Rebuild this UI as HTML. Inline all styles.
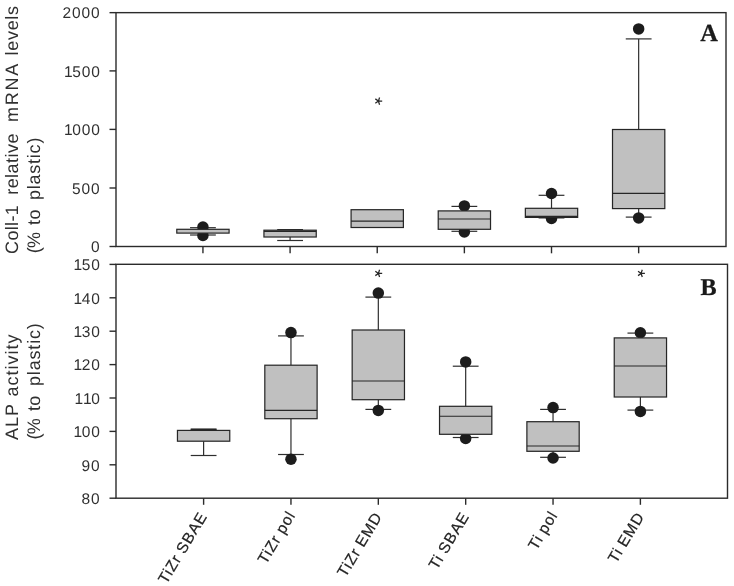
<!DOCTYPE html>
<html><head><meta charset="utf-8"><title>Figure</title>
<style>
html,body{margin:0;padding:0;background:#fff;}
body{width:734px;height:586px;overflow:hidden;font-family:"Liberation Sans",sans-serif;}
svg{display:block;opacity:0.999;will-change:transform;text-rendering:geometricPrecision;font-family:"Liberation Sans",sans-serif;}
</style></head><body>
<svg width="734" height="586" viewBox="0 0 734 586">
<rect x="0" y="0" width="734" height="586" fill="#ffffff"/>
<rect x="116" y="12.65" width="610" height="233.85" fill="none" stroke="#2b2b2b" stroke-width="1.4"/>
<line x1="109.50" y1="12.65" x2="116.00" y2="12.65" stroke="#2b2b2b" stroke-width="1.4"/>
<text x="100.4" y="18.35" dx="0.0 0.0 0.0 0.0" text-anchor="end" font-size="15.5" letter-spacing="0.85" fill="#303030">2000</text>
<line x1="109.50" y1="70.90" x2="116.00" y2="70.90" stroke="#2b2b2b" stroke-width="1.4"/>
<text x="99.7" y="76.60" dx="1.1 -1.1 0.0 0.0" text-anchor="end" font-size="15.5" letter-spacing="0.85" fill="#303030">1500</text>
<line x1="109.50" y1="129.40" x2="116.00" y2="129.40" stroke="#2b2b2b" stroke-width="1.4"/>
<text x="99.7" y="135.10" dx="1.1 -1.1 0.0 0.0" text-anchor="end" font-size="15.5" letter-spacing="0.85" fill="#303030">1000</text>
<line x1="109.50" y1="188.00" x2="116.00" y2="188.00" stroke="#2b2b2b" stroke-width="1.4"/>
<text x="100.4" y="193.70" dx="0.0 0.0 0.0" text-anchor="end" font-size="15.5" letter-spacing="0.85" fill="#303030">500</text>
<line x1="109.50" y1="246.50" x2="116.00" y2="246.50" stroke="#2b2b2b" stroke-width="1.4"/>
<text x="100.4" y="252.20" dx="0.0" text-anchor="end" font-size="15.5" letter-spacing="0.85" fill="#303030">0</text>
<line x1="202.94" y1="246.50" x2="202.94" y2="253.30" stroke="#2b2b2b" stroke-width="1.4"/>
<line x1="290.09" y1="246.50" x2="290.09" y2="253.30" stroke="#2b2b2b" stroke-width="1.4"/>
<line x1="377.23" y1="246.50" x2="377.23" y2="253.30" stroke="#2b2b2b" stroke-width="1.4"/>
<line x1="464.37" y1="246.50" x2="464.37" y2="253.30" stroke="#2b2b2b" stroke-width="1.4"/>
<line x1="551.51" y1="246.50" x2="551.51" y2="253.30" stroke="#2b2b2b" stroke-width="1.4"/>
<line x1="638.66" y1="246.50" x2="638.66" y2="253.30" stroke="#2b2b2b" stroke-width="1.4"/>
<line x1="202.94" y1="227.70" x2="202.94" y2="229.30" stroke="#2e2e2e" stroke-width="1.2"/>
<line x1="190.04" y1="227.70" x2="215.84" y2="227.70" stroke="#2e2e2e" stroke-width="1.2"/>
<line x1="202.94" y1="233.10" x2="202.94" y2="235.00" stroke="#2e2e2e" stroke-width="1.2"/>
<line x1="190.04" y1="235.00" x2="215.84" y2="235.00" stroke="#2e2e2e" stroke-width="1.2"/>
<circle cx="202.94" cy="227.00" r="5.75" fill="#1c1c1c"/>
<circle cx="202.94" cy="235.50" r="5.75" fill="#1c1c1c"/>
<rect x="176.79" y="229.30" width="52.30" height="3.80" fill="#c0c0c0" stroke="#262626" stroke-width="1.22"/>
<line x1="290.09" y1="229.60" x2="290.09" y2="230.20" stroke="#2e2e2e" stroke-width="1.2"/>
<line x1="277.19" y1="229.60" x2="302.99" y2="229.60" stroke="#2e2e2e" stroke-width="1.2"/>
<line x1="290.09" y1="237.00" x2="290.09" y2="240.50" stroke="#2e2e2e" stroke-width="1.2"/>
<line x1="277.19" y1="240.50" x2="302.99" y2="240.50" stroke="#2e2e2e" stroke-width="1.2"/>
<rect x="263.94" y="230.20" width="52.30" height="6.80" fill="#c0c0c0" stroke="#262626" stroke-width="1.22"/>
<line x1="263.94" y1="231.40" x2="316.24" y2="231.40" stroke="#262626" stroke-width="1.22"/>
<rect x="351.08" y="209.70" width="52.30" height="17.80" fill="#c0c0c0" stroke="#262626" stroke-width="1.22"/>
<line x1="351.08" y1="221.20" x2="403.38" y2="221.20" stroke="#262626" stroke-width="1.22"/>
<line x1="464.37" y1="206.40" x2="464.37" y2="210.90" stroke="#2e2e2e" stroke-width="1.2"/>
<line x1="451.47" y1="206.40" x2="477.27" y2="206.40" stroke="#2e2e2e" stroke-width="1.2"/>
<line x1="464.37" y1="229.30" x2="464.37" y2="231.30" stroke="#2e2e2e" stroke-width="1.2"/>
<line x1="451.47" y1="231.30" x2="477.27" y2="231.30" stroke="#2e2e2e" stroke-width="1.2"/>
<circle cx="464.37" cy="205.90" r="5.75" fill="#1c1c1c"/>
<circle cx="464.37" cy="232.00" r="5.75" fill="#1c1c1c"/>
<rect x="438.22" y="210.90" width="52.30" height="18.40" fill="#c0c0c0" stroke="#262626" stroke-width="1.22"/>
<line x1="438.22" y1="219.00" x2="490.52" y2="219.00" stroke="#262626" stroke-width="1.22"/>
<line x1="551.51" y1="195.30" x2="551.51" y2="208.30" stroke="#2e2e2e" stroke-width="1.2"/>
<line x1="538.61" y1="195.30" x2="564.41" y2="195.30" stroke="#2e2e2e" stroke-width="1.2"/>
<line x1="551.51" y1="217.40" x2="551.51" y2="217.90" stroke="#2e2e2e" stroke-width="1.2"/>
<line x1="538.61" y1="217.90" x2="564.41" y2="217.90" stroke="#2e2e2e" stroke-width="1.2"/>
<circle cx="551.51" cy="193.50" r="5.75" fill="#1c1c1c"/>
<circle cx="551.51" cy="218.40" r="5.75" fill="#1c1c1c"/>
<rect x="525.36" y="208.30" width="52.30" height="9.10" fill="#c0c0c0" stroke="#262626" stroke-width="1.22"/>
<line x1="525.36" y1="216.40" x2="577.66" y2="216.40" stroke="#262626" stroke-width="1.22"/>
<line x1="638.66" y1="38.90" x2="638.66" y2="129.50" stroke="#2e2e2e" stroke-width="1.2"/>
<line x1="625.76" y1="38.90" x2="651.56" y2="38.90" stroke="#2e2e2e" stroke-width="1.2"/>
<line x1="638.66" y1="208.60" x2="638.66" y2="217.10" stroke="#2e2e2e" stroke-width="1.2"/>
<line x1="625.76" y1="217.10" x2="651.56" y2="217.10" stroke="#2e2e2e" stroke-width="1.2"/>
<circle cx="638.66" cy="28.90" r="5.75" fill="#1c1c1c"/>
<circle cx="638.66" cy="217.90" r="5.75" fill="#1c1c1c"/>
<rect x="612.51" y="129.50" width="52.30" height="79.10" fill="#c0c0c0" stroke="#262626" stroke-width="1.22"/>
<line x1="612.51" y1="193.30" x2="664.81" y2="193.30" stroke="#262626" stroke-width="1.22"/>
<path d="M378.40 101.10L382.20 101.10M378.40 101.10L379.57 97.49M378.40 101.10L375.33 98.87M378.40 101.10L375.33 103.33M378.40 101.10L379.57 104.71" stroke="#262626" stroke-width="1.25" fill="none"/>
<circle cx="378.40" cy="101.10" r="1.0" fill="#262626"/>
<text x="709.2" y="40.7" text-anchor="middle" font-family="Liberation Serif, serif" font-weight="bold" font-size="24.5" fill="#1a1a1a" stroke="#1a1a1a" stroke-width="0.25">A</text>
<rect x="116" y="264.3" width="611.5" height="233.90" fill="none" stroke="#2b2b2b" stroke-width="1.4"/>
<line x1="109.50" y1="264.40" x2="116.00" y2="264.40" stroke="#2b2b2b" stroke-width="1.4"/>
<text x="99.7" y="270.10" dx="1.1 -1.1 0.0" text-anchor="end" font-size="15.5" letter-spacing="0.85" fill="#303030">150</text>
<line x1="109.50" y1="297.80" x2="116.00" y2="297.80" stroke="#2b2b2b" stroke-width="1.4"/>
<text x="99.7" y="303.50" dx="1.1 -1.1 0.0" text-anchor="end" font-size="15.5" letter-spacing="0.85" fill="#303030">140</text>
<line x1="109.50" y1="331.20" x2="116.00" y2="331.20" stroke="#2b2b2b" stroke-width="1.4"/>
<text x="99.7" y="336.90" dx="1.1 -1.1 0.0" text-anchor="end" font-size="15.5" letter-spacing="0.85" fill="#303030">130</text>
<line x1="109.50" y1="364.60" x2="116.00" y2="364.60" stroke="#2b2b2b" stroke-width="1.4"/>
<text x="99.7" y="370.30" dx="1.1 -1.1 0.0" text-anchor="end" font-size="15.5" letter-spacing="0.85" fill="#303030">120</text>
<line x1="109.50" y1="398.00" x2="116.00" y2="398.00" stroke="#2b2b2b" stroke-width="1.4"/>
<text x="99.7" y="403.70" dx="1.1 0.0 -1.1" text-anchor="end" font-size="15.5" letter-spacing="0.85" fill="#303030">110</text>
<line x1="109.50" y1="431.40" x2="116.00" y2="431.40" stroke="#2b2b2b" stroke-width="1.4"/>
<text x="99.7" y="437.10" dx="1.1 -1.1 0.0" text-anchor="end" font-size="15.5" letter-spacing="0.85" fill="#303030">100</text>
<line x1="109.50" y1="464.80" x2="116.00" y2="464.80" stroke="#2b2b2b" stroke-width="1.4"/>
<text x="100.4" y="470.50" dx="0.0 0.0" text-anchor="end" font-size="15.5" letter-spacing="0.85" fill="#303030">90</text>
<line x1="109.50" y1="498.20" x2="116.00" y2="498.20" stroke="#2b2b2b" stroke-width="1.4"/>
<text x="100.4" y="503.90" dx="0.0 0.0" text-anchor="end" font-size="15.5" letter-spacing="0.85" fill="#303030">80</text>
<line x1="203.61" y1="498.20" x2="203.61" y2="504.80" stroke="#2b2b2b" stroke-width="1.4"/>
<line x1="290.96" y1="498.20" x2="290.96" y2="504.80" stroke="#2b2b2b" stroke-width="1.4"/>
<line x1="378.32" y1="498.20" x2="378.32" y2="504.80" stroke="#2b2b2b" stroke-width="1.4"/>
<line x1="465.68" y1="498.20" x2="465.68" y2="504.80" stroke="#2b2b2b" stroke-width="1.4"/>
<line x1="553.04" y1="498.20" x2="553.04" y2="504.80" stroke="#2b2b2b" stroke-width="1.4"/>
<line x1="640.39" y1="498.20" x2="640.39" y2="504.80" stroke="#2b2b2b" stroke-width="1.4"/>
<line x1="203.61" y1="429.20" x2="203.61" y2="430.40" stroke="#2e2e2e" stroke-width="1.2"/>
<line x1="190.71" y1="429.20" x2="216.51" y2="429.20" stroke="#2e2e2e" stroke-width="1.2"/>
<line x1="203.61" y1="441.20" x2="203.61" y2="455.50" stroke="#2e2e2e" stroke-width="1.2"/>
<line x1="190.71" y1="455.50" x2="216.51" y2="455.50" stroke="#2e2e2e" stroke-width="1.2"/>
<rect x="177.46" y="430.40" width="52.30" height="10.80" fill="#c0c0c0" stroke="#262626" stroke-width="1.22"/>
<line x1="190.71" y1="429.70" x2="216.51" y2="429.70" stroke="#262626" stroke-width="2.0"/>
<line x1="290.96" y1="335.90" x2="290.96" y2="365.20" stroke="#2e2e2e" stroke-width="1.2"/>
<line x1="278.06" y1="335.90" x2="303.86" y2="335.90" stroke="#2e2e2e" stroke-width="1.2"/>
<line x1="290.96" y1="418.70" x2="290.96" y2="454.50" stroke="#2e2e2e" stroke-width="1.2"/>
<line x1="278.06" y1="454.50" x2="303.86" y2="454.50" stroke="#2e2e2e" stroke-width="1.2"/>
<circle cx="290.96" cy="332.60" r="5.75" fill="#1c1c1c"/>
<circle cx="290.96" cy="459.20" r="5.75" fill="#1c1c1c"/>
<rect x="264.81" y="365.20" width="52.30" height="53.50" fill="#c0c0c0" stroke="#262626" stroke-width="1.22"/>
<line x1="264.81" y1="410.40" x2="317.11" y2="410.40" stroke="#262626" stroke-width="1.22"/>
<line x1="378.32" y1="297.10" x2="378.32" y2="330.00" stroke="#2e2e2e" stroke-width="1.2"/>
<line x1="365.42" y1="297.10" x2="391.22" y2="297.10" stroke="#2e2e2e" stroke-width="1.2"/>
<line x1="378.32" y1="399.70" x2="378.32" y2="409.40" stroke="#2e2e2e" stroke-width="1.2"/>
<line x1="365.42" y1="409.40" x2="391.22" y2="409.40" stroke="#2e2e2e" stroke-width="1.2"/>
<circle cx="378.32" cy="293.10" r="5.75" fill="#1c1c1c"/>
<circle cx="378.32" cy="410.40" r="5.75" fill="#1c1c1c"/>
<rect x="352.17" y="330.00" width="52.30" height="69.70" fill="#c0c0c0" stroke="#262626" stroke-width="1.22"/>
<line x1="352.17" y1="381.00" x2="404.47" y2="381.00" stroke="#262626" stroke-width="1.22"/>
<line x1="465.68" y1="366.20" x2="465.68" y2="406.30" stroke="#2e2e2e" stroke-width="1.2"/>
<line x1="452.78" y1="366.20" x2="478.58" y2="366.20" stroke="#2e2e2e" stroke-width="1.2"/>
<line x1="465.68" y1="434.30" x2="465.68" y2="437.50" stroke="#2e2e2e" stroke-width="1.2"/>
<line x1="452.78" y1="437.50" x2="478.58" y2="437.50" stroke="#2e2e2e" stroke-width="1.2"/>
<circle cx="465.68" cy="361.90" r="5.75" fill="#1c1c1c"/>
<circle cx="465.68" cy="438.50" r="5.75" fill="#1c1c1c"/>
<rect x="439.53" y="406.30" width="52.30" height="28.00" fill="#c0c0c0" stroke="#262626" stroke-width="1.22"/>
<line x1="439.53" y1="416.25" x2="491.83" y2="416.25" stroke="#262626" stroke-width="1.22"/>
<line x1="553.04" y1="409.40" x2="553.04" y2="421.70" stroke="#2e2e2e" stroke-width="1.2"/>
<line x1="540.14" y1="409.40" x2="565.94" y2="409.40" stroke="#2e2e2e" stroke-width="1.2"/>
<line x1="553.04" y1="451.30" x2="553.04" y2="457.30" stroke="#2e2e2e" stroke-width="1.2"/>
<line x1="540.14" y1="457.30" x2="565.94" y2="457.30" stroke="#2e2e2e" stroke-width="1.2"/>
<circle cx="553.04" cy="407.60" r="5.75" fill="#1c1c1c"/>
<circle cx="553.04" cy="458.00" r="5.75" fill="#1c1c1c"/>
<rect x="526.89" y="421.70" width="52.30" height="29.60" fill="#c0c0c0" stroke="#262626" stroke-width="1.22"/>
<line x1="526.89" y1="446.00" x2="579.19" y2="446.00" stroke="#262626" stroke-width="1.22"/>
<line x1="640.39" y1="333.10" x2="640.39" y2="337.90" stroke="#2e2e2e" stroke-width="1.2"/>
<line x1="627.49" y1="333.10" x2="653.29" y2="333.10" stroke="#2e2e2e" stroke-width="1.2"/>
<line x1="640.39" y1="397.00" x2="640.39" y2="410.10" stroke="#2e2e2e" stroke-width="1.2"/>
<line x1="627.49" y1="410.10" x2="653.29" y2="410.10" stroke="#2e2e2e" stroke-width="1.2"/>
<circle cx="640.39" cy="332.80" r="5.75" fill="#1c1c1c"/>
<circle cx="640.39" cy="411.40" r="5.75" fill="#1c1c1c"/>
<rect x="614.24" y="337.90" width="52.30" height="59.10" fill="#c0c0c0" stroke="#262626" stroke-width="1.22"/>
<line x1="614.24" y1="366.00" x2="666.54" y2="366.00" stroke="#262626" stroke-width="1.22"/>
<path d="M378.40 273.40L382.20 273.40M378.40 273.40L379.57 269.79M378.40 273.40L375.33 271.17M378.40 273.40L375.33 275.63M378.40 273.40L379.57 277.01" stroke="#262626" stroke-width="1.25" fill="none"/>
<circle cx="378.40" cy="273.40" r="1.0" fill="#262626"/>
<path d="M641.10 273.40L644.90 273.40M641.10 273.40L642.27 269.79M641.10 273.40L638.03 271.17M641.10 273.40L638.03 275.63M641.10 273.40L642.27 277.01" stroke="#262626" stroke-width="1.25" fill="none"/>
<circle cx="641.10" cy="273.40" r="1.0" fill="#262626"/>
<text x="708.6" y="294.6" text-anchor="middle" font-family="Liberation Serif, serif" font-weight="bold" font-size="24.2" fill="#1a1a1a" stroke="#1a1a1a" stroke-width="0.25">B</text>
<text transform="translate(17.6,253.90) rotate(-90)" x="-0.00" font-size="18" letter-spacing="0.317" fill="#303030">Coll-1</text>
<text transform="translate(17.6,194.80) rotate(-90)" x="-0.00" font-size="18" letter-spacing="0.453" fill="#303030">relative</text>
<text transform="translate(17.6,121.90) rotate(-90)" x="-0.00" font-size="18" letter-spacing="1.703" fill="#303030">mRNA</text>
<text transform="translate(17.6,55.40) rotate(-90)" x="-0.00" font-size="18" letter-spacing="0.675" fill="#303030">levels</text>
<text transform="translate(40.2,253.30) rotate(-90)" x="-0.00" font-size="18" letter-spacing="-0.696" fill="#303030">(%</text>
<text transform="translate(40.2,224.90) rotate(-90)" x="-0.00" font-size="18" letter-spacing="0.288" fill="#303030">to</text>
<text transform="translate(40.2,200.10) rotate(-90)" x="-0.00" font-size="18" letter-spacing="0.782" fill="#303030">plastic)</text>
<text transform="translate(17.6,440.00) rotate(-90)" x="-0.00" font-size="18" letter-spacing="0.990" fill="#303030">ALP</text>
<text transform="translate(17.6,396.40) rotate(-90)" x="-0.00" font-size="18" letter-spacing="0.999" fill="#303030">activity</text>
<text transform="translate(40.2,439.50) rotate(-90)" x="-0.00" font-size="18" letter-spacing="-0.696" fill="#303030">(%</text>
<text transform="translate(40.2,411.10) rotate(-90)" x="-0.00" font-size="18" letter-spacing="0.288" fill="#303030">to</text>
<text transform="translate(40.2,386.00) rotate(-90)" x="-0.00" font-size="18" letter-spacing="0.825" fill="#303030">plastic)</text>
<text transform="translate(207.71,516.00) rotate(-59)" text-anchor="end" font-size="15.5" letter-spacing="0.95" word-spacing="-1.0" fill="#242424" stroke="#242424" stroke-width="0.2">TiZr SBAE</text>
<text transform="translate(296.06,514.90) rotate(-59)" text-anchor="end" font-size="15.5" letter-spacing="0.95" word-spacing="-1.0" fill="#242424" stroke="#242424" stroke-width="0.2">TiZr pol</text>
<text transform="translate(382.82,516.10) rotate(-59)" text-anchor="end" font-size="15.5" letter-spacing="0.95" word-spacing="-1.0" fill="#242424" stroke="#242424" stroke-width="0.2">TiZr EMD</text>
<text transform="translate(469.78,516.00) rotate(-59)" text-anchor="end" font-size="15.5" letter-spacing="0.95" word-spacing="-1.0" fill="#242424" stroke="#242424" stroke-width="0.2">Ti SBAE</text>
<text transform="translate(558.14,514.90) rotate(-59)" text-anchor="end" font-size="15.5" letter-spacing="0.95" word-spacing="-1.0" fill="#242424" stroke="#242424" stroke-width="0.2">Ti pol</text>
<text transform="translate(644.89,516.10) rotate(-59)" text-anchor="end" font-size="15.5" letter-spacing="0.95" word-spacing="-1.0" fill="#242424" stroke="#242424" stroke-width="0.2">Ti EMD</text>
</svg>
</body></html>
